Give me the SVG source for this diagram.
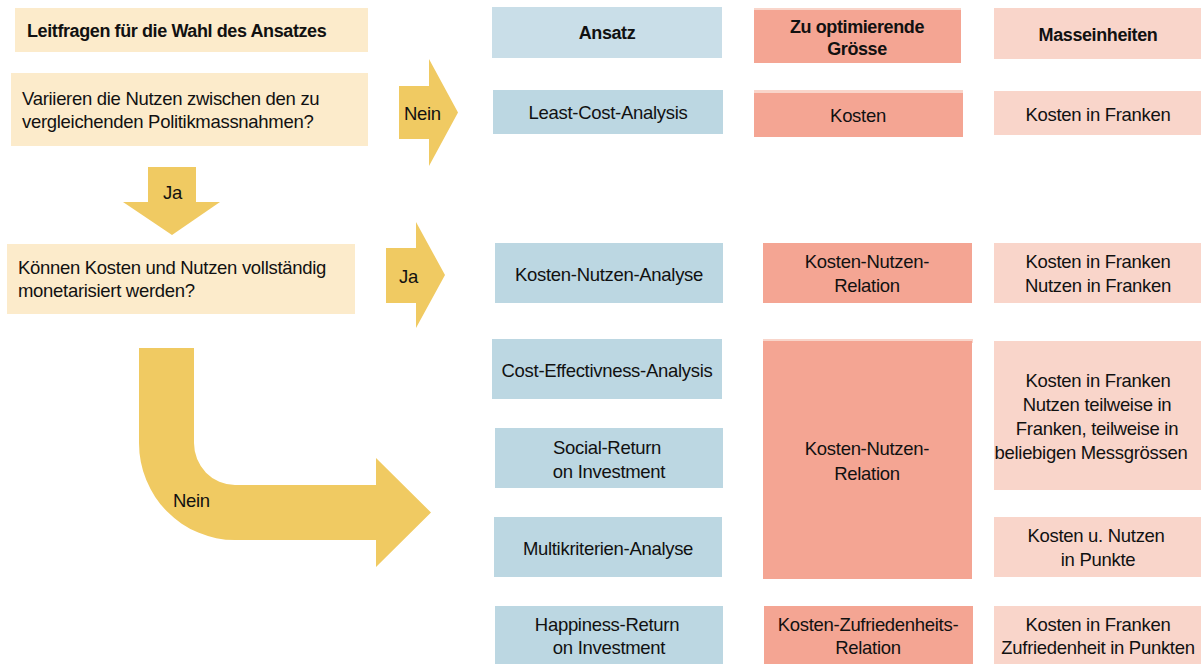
<svg xmlns="http://www.w3.org/2000/svg" width="1201" height="664" viewBox="0 0 1201 664">
<style>
text{font-family:"Liberation Sans",Arial,sans-serif;font-size:18.5px;letter-spacing:-0.3px;fill:#111}
.b{font-weight:bold;font-size:18px;letter-spacing:-0.4px}
.c{text-anchor:middle}
.cream{fill:#FCEBCB}
.arrow{fill:#F0CA62}
.blue{fill:#BCD7E2}
.bluehd{fill:#C9DEE8}
.pink{fill:#F4A593}
.lpink{fill:#F9D5CA}
</style>
<rect width="1201" height="664" fill="#fff"/>

<g id="connectors">
  <polygon class="arrow" points="399,86 429,86 429,59 458,112.5 429,166 429,139 399,139"/>
  <text x="404" y="120">Nein</text>
  <polygon class="arrow" points="148,167 196,167 196,202 220,202 172,235 123,202 148,202"/>
  <text x="163" y="199">Ja</text>
  <polygon class="arrow" points="386,248 416,248 416,222 445,275 416,328 416,303 386,303"/>
  <text x="399" y="283">Ja</text>
  <path class="arrow" d="M139,348 H194 V443 A41,42 0 0 0 235,485 H376 V458 L431,512.5 L376,567 V540 H235 A96,97 0 0 1 139,443 Z"/>
  <text x="173" y="507">Nein</text>
</g>

<g id="q-title">
  <rect class="cream" x="15" y="8" width="353" height="44"/>
  <text class="b" x="27" y="37">Leitfragen für die Wahl des Ansatzes</text>
</g>
<g id="q1">
  <rect class="cream" x="11" y="73" width="357" height="73"/>
  <text x="22" y="105">Variieren die Nutzen zwischen den zu</text>
  <text x="22" y="128">vergleichenden Politikmassnahmen?</text>
</g>
<g id="q2">
  <rect class="cream" x="7" y="244" width="348" height="70"/>
  <text x="18" y="274">Können Kosten und Nutzen vollständig</text>
  <text x="18" y="297">monetarisiert werden?</text>
</g>

<g id="h-ansatz">
  <rect class="bluehd" x="492" y="7" width="230" height="51"/>
  <text class="b c" x="607" y="39">Ansatz</text>
</g>
<g id="h-groesse">
  <rect class="lpink" x="754" y="8" width="207" height="4"/>
  <rect class="pink" x="754" y="10" width="207" height="53"/>
  <text class="b c" x="857" y="33">Zu optimierende</text>
  <text class="b c" x="857" y="55">Grösse</text>
</g>
<g id="h-mass">
  <rect class="lpink" x="994" y="8" width="207" height="51"/>
  <text class="b c" x="1098" y="41">Masseinheiten</text>
</g>

<g id="a-lca">
  <rect class="blue" x="493" y="90" width="230" height="44"/>
  <text class="c" x="608" y="119">Least-Cost-Analysis</text>
</g>
<g id="g-kosten">
  <rect class="lpink" x="754" y="90" width="209" height="4"/>
  <rect class="pink" x="754" y="93" width="209" height="44"/>
  <text class="c" x="858" y="122">Kosten</text>
</g>
<g id="m-kosten">
  <rect class="lpink" x="994" y="91" width="207" height="44"/>
  <text class="c" x="1098" y="121">Kosten in Franken</text>
</g>

<g id="a-kna">
  <rect class="blue" x="495" y="243" width="228" height="60"/>
  <text class="c" x="609" y="281">Kosten-Nutzen-Analyse</text>
</g>
<g id="g-knr1">
  <rect class="pink" x="763" y="243" width="209" height="60"/>
  <text class="c" x="867" y="268">Kosten-Nutzen-</text>
  <text class="c" x="867" y="292">Relation</text>
</g>
<g id="m-knf">
  <rect class="lpink" x="994" y="243" width="207" height="60"/>
  <text class="c" x="1098" y="268">Kosten in Franken</text>
  <text class="c" x="1098" y="292">Nutzen in Franken</text>
</g>

<g id="a-cea">
  <rect class="blue" x="492" y="339" width="230" height="60"/>
  <text class="c" x="607" y="377">Cost-Effectivness-Analysis</text>
</g>
<g id="a-sroi">
  <rect class="blue" x="495" y="428" width="228" height="60"/>
  <text class="c" x="607" y="454">Social-Return</text>
  <text class="c" x="609" y="478">on Investment</text>
</g>
<g id="a-mka">
  <rect class="blue" x="494" y="517" width="228" height="60"/>
  <text class="c" x="608" y="555">Multikriterien-Analyse</text>
</g>
<g id="a-hroi">
  <rect class="blue" x="495" y="606" width="228" height="58"/>
  <text class="c" x="607" y="631">Happiness-Return</text>
  <text class="c" x="609" y="654">on Investment</text>
</g>

<g id="g-knr2">
  <rect class="lpink" x="763" y="339" width="210" height="4"/>
  <rect class="pink" x="763" y="341" width="209" height="238"/>
  <text class="c" x="867" y="455">Kosten-Nutzen-</text>
  <text class="c" x="867" y="480">Relation</text>
</g>
<g id="g-kzr">
  <rect class="pink" x="764" y="606" width="209" height="58"/>
  <text class="c" x="868" y="631">Kosten-Zufriedenheits-</text>
  <text class="c" x="868" y="654">Relation</text>
</g>

<g id="m-teilweise">
  <rect class="lpink" x="994" y="341" width="207" height="149"/>
  <text class="c" x="1098" y="387">Kosten in Franken</text>
  <text class="c" x="1097" y="411">Nutzen teilweise in</text>
  <text class="c" x="1097" y="435">Franken, teilweise in</text>
  <text class="c" x="1091" y="459">beliebigen Messgrössen</text>
</g>
<g id="m-punkte">
  <rect class="lpink" x="994" y="517" width="207" height="60"/>
  <text class="c" x="1096" y="542">Kosten u. Nutzen</text>
  <text class="c" x="1098" y="566">in Punkte</text>
</g>
<g id="m-zufr">
  <rect class="lpink" x="994" y="606" width="207" height="58"/>
  <text class="c" x="1098" y="631">Kosten in Franken</text>
  <text class="c" x="1098" y="654">Zufriedenheit in Punkten</text>
</g>
</svg>
